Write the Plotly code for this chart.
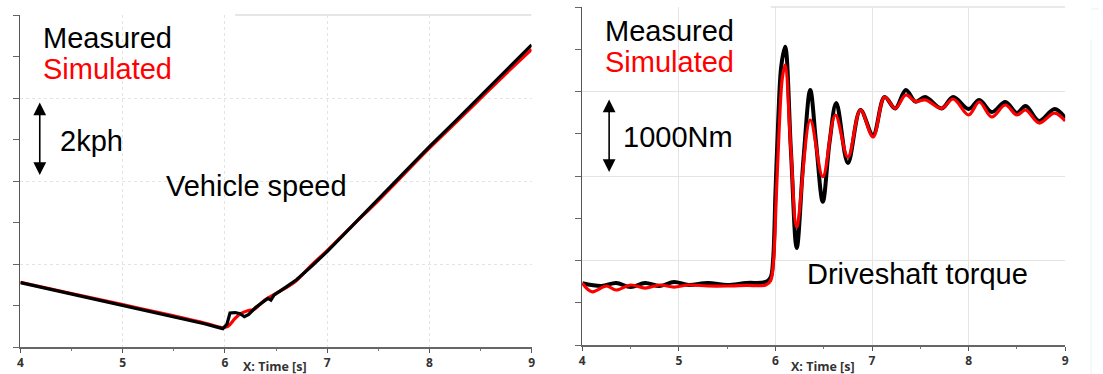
import plotly.graph_objects as go

# ---------------- data ----------------
speed_t_meas = [4.0, 4.5, 5.0, 5.5, 5.8, 5.95, 5.98, 6.02, 6.05, 6.1, 6.15, 6.19, 6.23, 6.3, 6.36,
                6.42, 6.45, 6.48, 6.6, 6.7, 6.85, 7.0, 7.25, 7.5, 7.75, 8.0, 8.25, 8.5, 8.75, 9.0]
speed_meas = [1.55, 1.28, 1.01, 0.74, 0.56, 0.46, 0.44, 0.55, 0.82, 0.83, 0.80, 0.73, 0.78, 0.95, 1.05,
              1.17, 1.13, 1.25, 1.45, 1.62, 1.95, 2.30, 2.93, 3.56, 4.20, 4.83, 5.43, 6.04, 6.66, 7.28]

speed_t_sim = [4.0, 4.5, 5.0, 5.5, 5.8, 5.97, 6.03, 6.1, 6.15, 6.23, 6.28, 6.39, 6.52, 6.68, 6.85,
               7.0, 7.25, 7.5, 7.75, 8.0, 8.25, 8.5, 8.75, 9.0]
speed_sim = [1.56, 1.29, 1.02, 0.75, 0.58, 0.47, 0.50, 0.69, 0.80, 0.88, 0.90, 1.13, 1.32, 1.56, 1.98,
             2.32, 2.93, 3.53, 4.16, 4.79, 5.39, 5.99, 6.59, 7.17]

torque_t_meas = [4.0, 4.2, 4.35, 4.5, 4.65, 4.8, 4.95, 5.1, 5.3, 5.5, 5.7, 5.9, 5.95, 5.975, 6.0, 6.03,
                 6.06, 6.10, 6.16, 6.22, 6.29, 6.36, 6.42, 6.49, 6.56, 6.63, 6.75, 6.88, 7.01, 7.13,
                 7.24, 7.35, 7.45, 7.55, 7.72, 7.84, 8.0, 8.11, 8.24, 8.38, 8.5, 8.59, 8.73, 8.89, 9.0]
torque_meas = [730, 698, 734, 686, 734, 698, 746, 710, 734, 710, 734, 746, 800, 1000, 1800, 2700,
               3300, 3530, 2300, 1148, 2200, 3018, 2400, 1696, 2400, 2864, 2154, 2781, 2485, 2935,
               2800, 3018, 2880, 2935, 2800, 2935, 2793, 2900, 2757, 2876, 2745, 2828, 2651, 2793, 2686]

torque_t_sim = [4.0, 4.1, 4.25, 4.35, 4.5, 4.65, 4.8, 4.95, 5.1, 5.3, 5.5, 5.7, 5.9, 5.95, 5.98, 6.01,
                6.04, 6.07, 6.10, 6.16, 6.22, 6.36, 6.49, 6.62, 6.75, 6.88, 7.01, 7.13, 7.24, 7.35,
                7.45, 7.55, 7.72, 7.84, 8.0, 8.11, 8.24, 8.38, 8.5, 8.59, 8.73, 8.89, 9.0]
torque_sim = [730, 630, 698, 651, 710, 674, 710, 686, 710, 698, 698, 705, 710, 760, 1000, 1800,
              2600, 3150, 3314, 2300, 1396, 2663, 1992, 2722, 2225, 2781, 2462, 2935, 2800, 2959,
              2880, 2900, 2800, 2911, 2722, 2876, 2698, 2840, 2722, 2781, 2627, 2745, 2651]

x_ticks = [4, 5, 6, 7, 8, 9]
x_tick_labels = ["4", "5", "6", "7", "8", "9"]

# ---------------- figure ----------------
W, H = 1103, 374
fig = go.Figure()

fig.add_trace(go.Scatter(x=speed_t_sim, y=speed_sim, mode="lines", xaxis="x", yaxis="y",
                         line=dict(color="#ff0000", width=3.2, shape="spline"), name="Simulated"))
fig.add_trace(go.Scatter(x=speed_t_meas, y=speed_meas, mode="lines", xaxis="x", yaxis="y",
                         line=dict(color="#000000", width=3.2), name="Measured"))
fig.add_trace(go.Scatter(x=torque_t_meas, y=torque_meas, mode="lines", xaxis="x2", yaxis="y2",
                         line=dict(color="#000000", width=4, shape="spline"), name="Measured"))
fig.add_trace(go.Scatter(x=torque_t_sim, y=torque_sim, mode="lines", xaxis="x2", yaxis="y2",
                         line=dict(color="#ff0000", width=3.2, shape="spline"), name="Simulated"))

tickfont = dict(family="Open Sans, DejaVu Sans", size=12, color="#333333", weight="bold")

def xaxis(domain, anchor, griddash):
    return dict(domain=domain, anchor=anchor, range=[4, 9], tickvals=x_ticks, ticktext=x_tick_labels,
                showgrid=True, gridcolor="#e4e4e4", griddash=griddash, gridwidth=1,
                showline=True, linecolor="#666666", linewidth=1.5,
                ticks="outside", ticklen=4, tickcolor="#555555", tickfont=tickfont,
                minor=dict(dtick=0.5, ticks="outside", ticklen=2, tickcolor="#777777", showgrid=False),
                zeroline=False, fixedrange=True)

def yaxis(domain, anchor, rng, grid_vals, minor_dtick, griddash):
    return dict(domain=domain, anchor=anchor, range=rng, tickvals=grid_vals, showticklabels=False,
                showgrid=True, gridcolor="#e4e4e4", griddash=griddash, gridwidth=1,
                showline=True, linecolor="#555555", linewidth=1.5,
                ticks="outside", ticklen=6, tickcolor="#666666",
                minor=dict(dtick=minor_dtick, ticks="outside", ticklen=6, tickcolor="#666666", showgrid=False),
                zeroline=False, fixedrange=True)

fig.update_layout(
    width=W, height=H, margin=dict(l=0, r=0, t=0, b=0),
    paper_bgcolor="white", plot_bgcolor="white", showlegend=False,
    xaxis=xaxis([17.5 / W, 532 / W], "y", "dot"),
    yaxis=yaxis([1 - 347 / H, 1 - 15 / H], "x", [0, 8], [2, 4, 6], 1, "dot"),
    xaxis2=xaxis([583 / W, 1069 / W], "y2", "solid"),
    yaxis2=yaxis([1 - 345 / H, 1 - 7 / H], "x2", [0, 4000], [1000, 2000, 3000], 500, "solid"),
)

# top border fragments
fig.add_shape(type="line", xref="x", yref="y domain", x0=6.1, x1=9, y0=1, y1=1,
              line=dict(color="#e6e6e6", width=2))
fig.add_shape(type="line", xref="x2", yref="y2 domain", x0=5.95, x1=9, y0=1, y1=1,
              line=dict(color="#e2e2e2", width=1.5))
fig.add_shape(type="line", xref="paper", yref="paper", x0=1095 / W, x1=1095 / W, y0=0, y1=1 - 40 / H,
              line=dict(color="#f0f0f0", width=1))
fig.add_shape(type="line", xref="paper", yref="paper", x0=1095 / W, x1=1, y0=1 - 9 / H, y1=1 - 9 / H,
              line=dict(color="#eeeeee", width=1))

def label(x_px, y_px, text, color="black", size=29, anchor="left"):
    fig.add_annotation(xref="paper", yref="paper", x=(x_px - 3) / W, y=1 - y_px / H, text=text,
                       showarrow=False, xanchor=anchor, yanchor="middle",
                       font=dict(family="Liberation Sans, Arial", size=size, color=color))

# left panel texts (x = left edge of glyphs in px)
label(41, 38, "Measured")
label(41, 69, "Simulated", color="#ff0000")
label(58, 141, "2kph")
label(165, 186, "Vehicle speed")
# right panel texts
label(607, 31, "Measured")
label(607, 62, "Simulated", color="#ff0000")
label(625, 137, "1000Nm")
label(810, 274, "Driveshaft torque")

# x-axis titles
def xtitle(x_px, y_px):
    fig.add_annotation(xref="paper", yref="paper", x=x_px / W, y=1 - y_px / H, text="X: Time [s]",
                       showarrow=False, xanchor="center", yanchor="middle",
                       font=dict(family="Open Sans, DejaVu Sans", size=12.5, color="#333333", weight="bold"))
xtitle(274, 366)
xtitle(825, 366)

# double-headed arrows
def darrow(x_px, y_top, y_bot):
    fig.add_annotation(xref="paper", yref="paper", x=x_px / W, y=1 - y_bot / H,
                       axref="pixel", ayref="pixel", ax=0, ay=-(y_bot - y_top),
                       text="", showarrow=True, arrowside="end+start", arrowhead=2,
                       arrowsize=1.6, arrowwidth=1.6, arrowcolor="black")
darrow(37, 101, 175)
darrow(610, 98, 172)

fig.write_html("out.html", config={"displayModeBar": False, "staticPlot": True},
               post_script="document.body.style.margin='0';document.body.style.overflow='hidden';")
